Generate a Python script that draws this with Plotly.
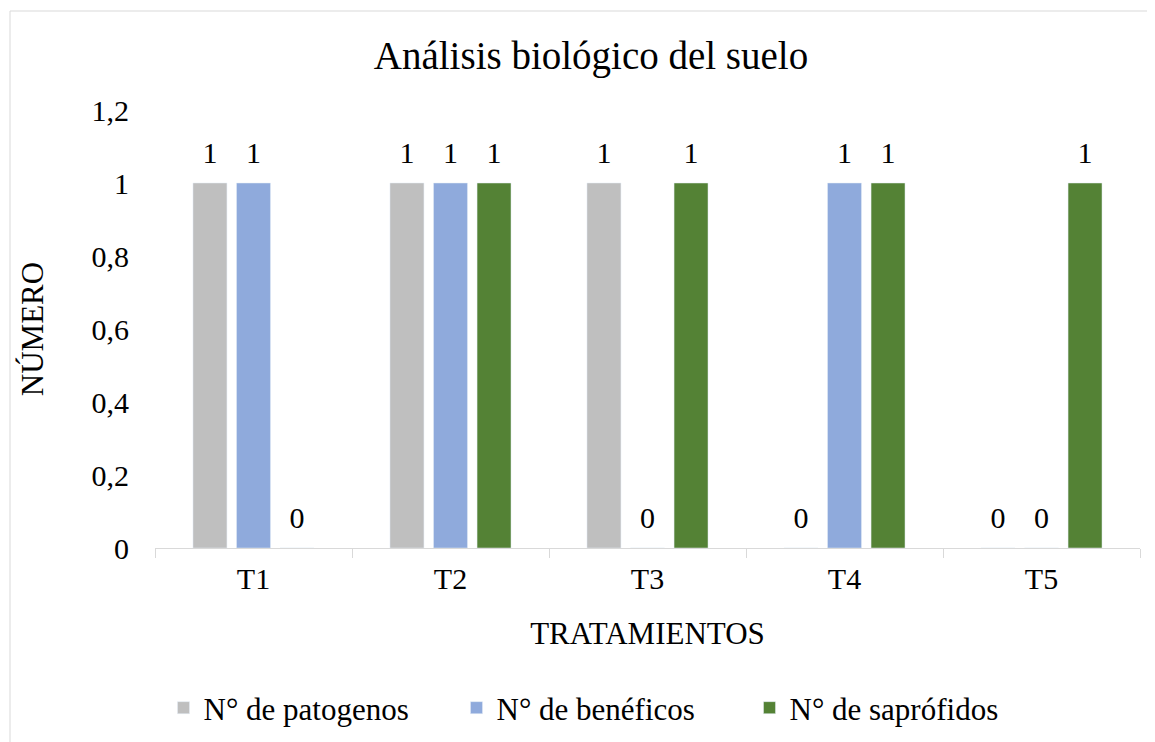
import plotly.graph_objects as go

categories = ["T1", "T2", "T3", "T4", "T5"]
patogenos = [1, 1, 1, 0, 0]
beneficos = [1, 1, 0, 1, 0]
saprofidos = [0, 1, 1, 1, 1]
series_names = ["N° de patogenos", "N° de benéficos", "N° de saprófidos"]
colors = ["#BFBFBF", "#8FAADC", "#548235"]
y_ticks = [0, 0.2, 0.4, 0.6, 0.8, 1.0, 1.2]

FONT = "Liberation Serif, Times New Roman, serif"
FS = 30

fig = go.Figure()
for i, (name, vals, col) in enumerate(zip(series_names, [patogenos, beneficos, saprofidos], colors)):
    fig.add_trace(go.Bar(
        x=categories, y=vals, name=name, marker_color=col,
        offsetgroup=str(i), alignmentgroup="a",
        hoverinfo="skip",
    ))
for i, vals in enumerate([patogenos, beneficos, saprofidos]):
    fig.add_trace(go.Scatter(
        x=categories, y=vals, mode="markers+text", text=[str(v) for v in vals],
        textposition="top center", offsetgroup=str(i), alignmentgroup="a",
        marker=dict(size=18, opacity=0), showlegend=False, cliponaxis=False,
        textfont=dict(family=FONT, size=FS, color="black"), hoverinfo="skip",
    ))

W, H = 1155, 742
OFF = 8  # page body margin
L, R, T = 155 - OFF, 1155 - (1140 - OFF), 110 - OFF
B = H - (548 - OFF)
pw, ph = W - L - R, H - T - B

fig.update_layout(
    width=W, height=H,
    margin=dict(l=L, r=R, t=T, b=B, autoexpand=False),
    paper_bgcolor="white", plot_bgcolor="white",
    separators=",.",
    barmode="group", bargap=0.337, bargroupgap=0.22,
    scattermode="group", scattergap=0.337,
    font=dict(family=FONT, size=FS, color="black"),
    title=dict(text="Análisis biológico del suelo", x=(591 - OFF) / W, xanchor="center",
               y=1 - (55 - OFF) / H, yanchor="middle", yref="container",
               font=dict(family=FONT, size=39, color="black")),
    legend=dict(orientation="h", x=(603 - OFF - L) / pw, xanchor="center",
                y=(548 - 708) / ph, yanchor="middle",
                font=dict(family=FONT, size=31, color="black"),
                itemwidth=30, traceorder="normal", entrywidth=248),
    xaxis=dict(title=dict(text="TRATAMIENTOS", standoff=28, font=dict(family=FONT, size=31)),
               automargin=False,
               showline=True, linecolor="#D9D9D9", linewidth=1,
               ticks="outside", tickson="boundaries", ticklen=9, tickcolor="#D9D9D9",
               ticklabelstandoff=4,
               showgrid=False, tickfont=dict(family=FONT, size=FS, color="black")),
    yaxis=dict(title=dict(text="NÚMERO", standoff=38, font=dict(family=FONT, size=31)),
               range=[0, 1.2], automargin=False,
               tickvals=y_ticks, showgrid=False, zeroline=False, showline=False,
               ticklabelstandoff=25, tickfont=dict(family=FONT, size=FS, color="black")),
    showlegend=True,
)

fig.add_shape(type="rect", xref="paper", yref="paper",
              x0=(10 - OFF - L) / pw, x1=(W + 5 - L) / pw,
              y0=(H - B - (H + 5)) / ph, y1=(H - B - (11 - OFF)) / ph,
              line=dict(color="#D9D9D9", width=1), fillcolor="rgba(0,0,0,0)", layer="below")

fig.write_html("out.html")
